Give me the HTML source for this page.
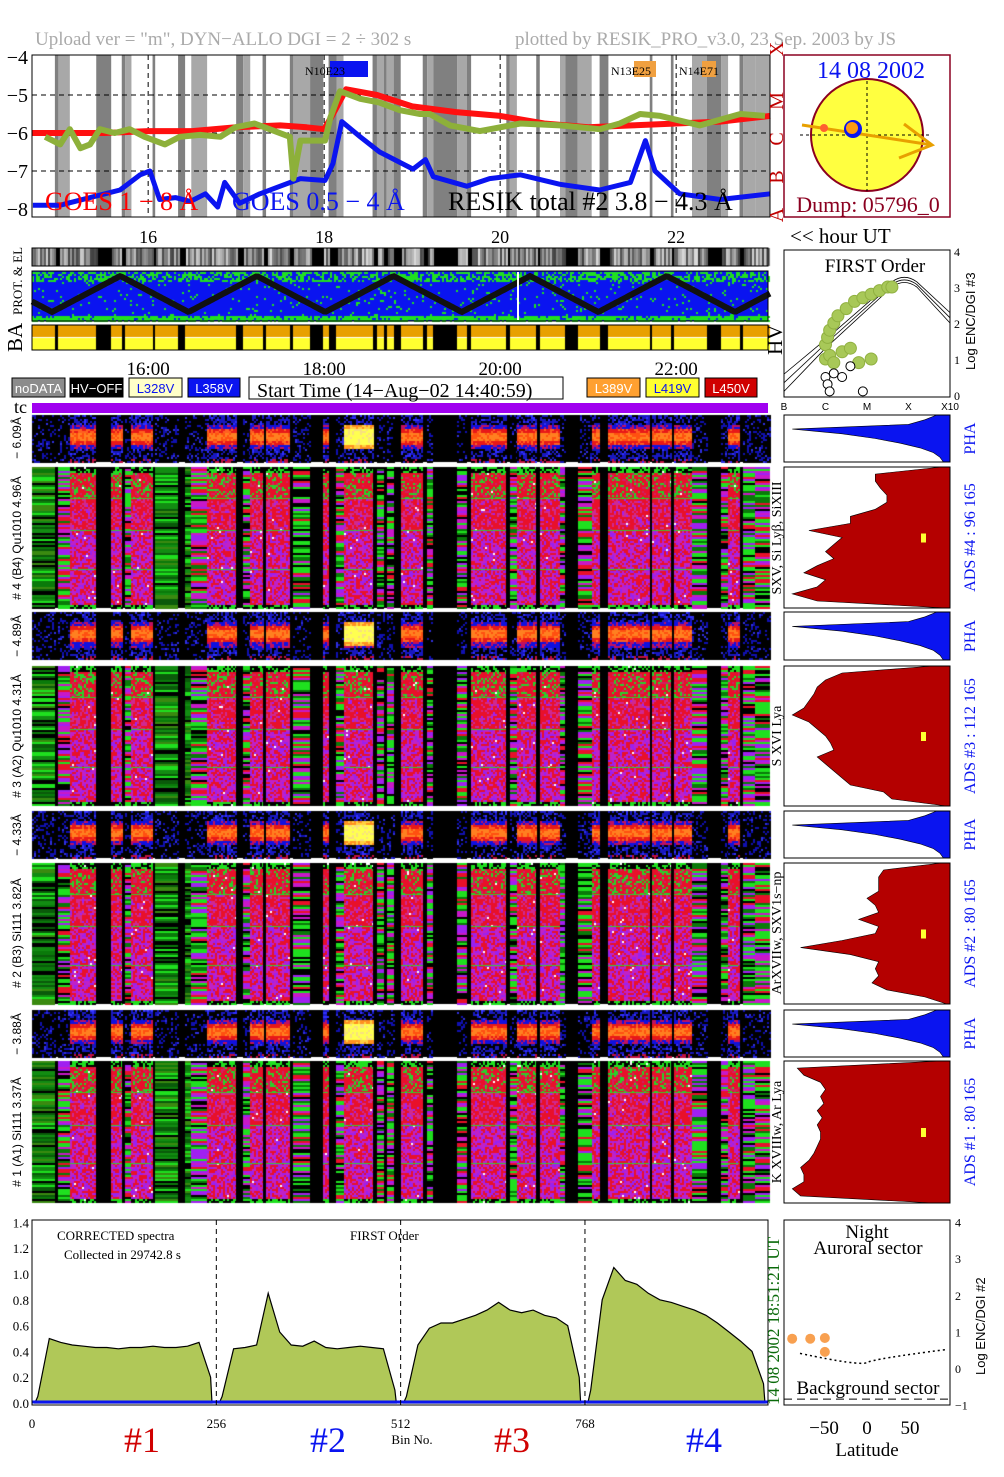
<!DOCTYPE html>
<html><head><meta charset="utf-8">
<style>
html,body{margin:0;padding:0;background:#fff;}
#root{position:relative;width:1004px;height:1477px;overflow:hidden;font-family:"Liberation Serif",serif;}
canvas{position:absolute;}
svg{position:absolute;left:0;top:0;}
</style></head>
<body>
<div id="root">
<canvas id="spec" width="1004" height="1477" style="left:0;top:0"></canvas>
<svg id="svg" width="1004" height="1477" viewBox="0 0 1004 1477"></svg>
</div>
<script>
// ---------- DATA ----------
const goesLongT = [14.68,15.0,15.5,16.0,16.5,17.0,17.5,17.8,18.0,18.1,18.25,18.6,19.0,19.5,20.0,20.5,21.0,21.5,22.0,22.5,23.07];
const goesLongV = [-6.0,-6.0,-6.0,-5.95,-5.95,-5.85,-5.8,-5.85,-5.9,-5.5,-4.85,-5.0,-5.3,-5.45,-5.55,-5.75,-5.85,-5.8,-5.75,-5.7,-5.55];
const goesShortT = [14.69,15.0,15.34,15.68,15.91,16.02,16.13,16.31,16.48,16.65,16.79,16.87,17.04,17.27,17.5,17.73,18.01,18.1,18.2,18.41,18.63,19.01,19.15,19.24,19.62,19.88,20.23,20.68,21.13,21.48,21.65,21.76,22.04,22.5,23.07];
const goesShortV = [-7.9,-7.9,-7.7,-7.5,-7.1,-7.0,-7.75,-7.7,-7.8,-7.6,-7.95,-7.3,-7.85,-7.6,-7.4,-7.2,-7.25,-6.8,-5.7,-6.1,-6.5,-6.95,-6.7,-7.15,-7.4,-7.2,-7.1,-7.35,-7.5,-7.3,-6.2,-7.0,-7.6,-7.75,-7.6];
const resikT = [14.83,15.0,15.11,15.23,15.34,15.45,15.62,15.79,15.96,16.19,16.36,16.59,16.82,16.99,17.21,17.38,17.61,17.65,17.73,18.01,18.07,18.18,18.41,18.63,18.86,19.09,19.2,19.43,19.77,20.23,20.68,21.13,21.36,21.59,21.82,22.27,22.73,23.01];
const resikV = [-6.1,-6.3,-5.9,-6.4,-6.3,-5.9,-6.0,-5.9,-6.1,-6.3,-6.1,-6.05,-6.1,-5.85,-5.75,-5.9,-6.1,-7.2,-6.2,-6.2,-5.6,-4.9,-5.1,-5.2,-5.4,-5.5,-5.5,-5.8,-5.95,-5.75,-5.8,-5.9,-5.75,-5.5,-5.55,-5.8,-5.5,-5.55];
const goesTicks = [-4,-5,-6,-7,-8];
const classLabels = ["X","M","C","B","A"];
const hourTicks = [16,18,20,22];
const segments = [[14.68,14.94,'g'],[14.94,14.98,'k'],[14.98,15.11,'s'],[15.11,15.41,'r'],[15.41,15.58,'k'],[15.58,15.7,'r'],[15.7,15.74,'k'],[15.74,15.81,'s'],[15.81,16.05,'r'],[16.05,16.08,'k'],[16.08,16.34,'g'],[16.34,16.42,'k'],[16.42,16.49,'g'],[16.49,16.67,'s'],[16.67,17.0,'r'],[17.0,17.08,'k'],[17.08,17.16,'s'],[17.16,17.3,'r'],[17.3,17.34,'k'],[17.34,17.61,'r'],[17.61,17.65,'k'],[17.65,17.84,'s'],[17.84,17.99,'k'],[17.99,18.05,'r'],[18.05,18.14,'k'],[18.14,18.22,'s'],[18.22,18.55,'f'],[18.55,18.6,'k'],[18.6,18.68,'s'],[18.68,18.71,'k'],[18.71,18.79,'s'],[18.79,18.87,'k'],[18.87,19.12,'r'],[19.12,19.17,'k'],[19.17,19.24,'s'],[19.24,19.51,'k'],[19.51,19.62,'s'],[19.62,19.67,'k'],[19.67,20.07,'r'],[20.07,20.11,'k'],[20.11,20.19,'s'],[20.19,20.41,'r'],[20.41,20.45,'k'],[20.45,20.68,'r'],[20.68,20.74,'s'],[20.74,20.88,'k'],[20.88,21.04,'s'],[21.04,21.13,'r'],[21.13,21.23,'k'],[21.23,21.7,'r'],[21.7,21.73,'k'],[21.73,21.94,'r'],[21.94,21.97,'k'],[21.97,22.18,'r'],[22.18,22.35,'s'],[22.35,22.51,'k'],[22.51,22.59,'s'],[22.59,22.72,'r'],[22.72,22.76,'k'],[22.76,22.9,'s'],[22.9,23.07,'s']];
const binTicks = [0,256,512,768];
const specTicks = [0.0,0.2,0.4,0.6,0.8,1.0,1.2,1.4];
const spec1 = [0.05,0.50,0.47,0.45,0.44,0.43,0.43,0.42,0.43,0.43,0.44,0.43,0.43,0.44,0.47,0.20];
const spec2 = [0.05,0.42,0.43,0.45,0.85,0.55,0.45,0.44,0.48,0.43,0.42,0.43,0.44,0.43,0.42,0.10];
const spec3 = [0.05,0.45,0.58,0.62,0.62,0.65,0.68,0.72,0.78,0.72,0.70,0.72,0.68,0.66,0.60,0.20];
const spec4 = [0.10,0.80,1.05,0.95,0.92,0.85,0.80,0.78,0.75,0.72,0.68,0.62,0.55,0.48,0.40,0.15];
const ads4 = [0.95,0.55,0.55,0.58,0.62,0.62,0.55,0.40,0.40,0.15,0.35,0.30,0.25,0.30,0.20,0.12,0.25,0.20,0.05,0.20,0.98];
const ads3 = [0.9,0.35,0.25,0.20,0.18,0.15,0.12,0.05,0.15,0.20,0.25,0.28,0.30,0.20,0.25,0.30,0.35,0.40,0.60,0.65,0.98];
const ads2 = [0.95,0.60,0.57,0.57,0.57,0.50,0.55,0.57,0.45,0.57,0.55,0.35,0.10,0.40,0.57,0.55,0.57,0.53,0.62,0.85,0.98];
const ads1 = [0.95,0.08,0.12,0.22,0.25,0.22,0.24,0.20,0.23,0.20,0.22,0.22,0.20,0.18,0.15,0.10,0.12,0.12,0.05,0.10,0.90];
const pha = [0.92,0.85,0.75,0.05,0.35,0.55,0.7,0.82,0.9,0.94,0.96];
const auroraLat = [-87,-66,-49,-49];
const auroraVal = [0.8,0.8,0.82,0.44];
const foX = [1.0,1.05,1.1,1.2,1.3,1.5,1.7,1.9,2.1,2.3,2.5,2.6,1.0,1.1,1.2,1.4,1.6,1.8,1.0,1.05,1.2,1.4,1.6,2.1,1.1,1.9];
const foY = [1.4,1.6,1.8,2.0,2.2,2.4,2.6,2.7,2.8,2.9,3.0,3.0,1.0,1.1,0.9,1.2,1.3,0.9,0.5,0.3,0.6,0.5,0.8,1.0,0.1,0.1];

// ---------- helpers ----------
const NS="http://www.w3.org/2000/svg";
const svg=document.getElementById('svg');
function el(tag,attrs,parent,text){const e=document.createElementNS(NS,tag);for(const k in attrs)e.setAttribute(k,attrs[k]);if(text!==undefined)e.textContent=text;(parent||svg).appendChild(e);return e;}
const X0=32,X1=770;
const xh=h=>32+(h-14.68)*88;
const yg=v=>57+(-4-v)*38;
const SPX=b=>32+b*0.72;
const SPY=v=>1403-v*129;
const serif='"Liberation Serif",serif', sans='"Liberation Sans",sans-serif';

// ---------- canvas textures ----------
const cv=document.getElementById('spec'),ctx=cv.getContext('2d');
let seed=12345;function rnd(){seed=(seed*1664525+1013904223)>>>0;return seed/4294967296;}
function pick(a){return a[Math.floor(rnd()*a.length)];}
function bigPanel(y0,y1){
  for(const [a,b,t] of segments){
    const xa=Math.round(xh(a)),xb=Math.round(xh(b));
    if(t==='k'){ctx.fillStyle='#000';ctx.fillRect(xa,y0,xb-xa,y1-y0);continue;}
    for(let y=y0;y<y1;y+=2){
      const fy=(y-y0)/(y1-y0);
      if(t==='s'||t==='g'){
        const pal=t==='g'?['#0a7a0a','#128c12','#1fe01f','#000','#0a5a0a','#3a8a10']:['#1fe01f','#0a7a0a','#000','#e8102a','#c818c8','#a020f0','#1fe01f'];
        ctx.fillStyle=pick(pal);ctx.fillRect(xa,y,xb-xa,2);
      } else {
        for(let x=xa;x<xb;x+=2){
          let c;const r=rnd();
          if(fy<0.04||fy>0.97)c=r<0.5?'#1fe01f':'#000';
          else if(fy<0.22)c=r<0.25?'#2ad02a':(r<0.85?'#e8102a':'#d02060');
          else if(fy<0.45)c=r<0.6?'#e8102a':(r<0.88?'#d02890':'#a020f0');
          else c=r<0.42?'#e8102a':(r<0.78?'#c020c8':'#9a20f0');
          if(rnd()<0.008)c='#fff';
          ctx.fillStyle=c;ctx.fillRect(x,y,2,2);
        }
      }
    }
  }
  ctx.fillStyle='rgba(40,220,40,0.9)';
  [0.22,0.45,0.72].forEach(f=>{for(const [a,b,t] of segments){if(t==='r'||t==='f'){ctx.fillRect(Math.round(xh(a)),Math.round(y0+f*(y1-y0)),Math.round(xh(b)-xh(a)),1);}}});
}
function smallPanel(y0,y1){
  ctx.fillStyle='#000';ctx.fillRect(X0,y0,736,y1-y0);
  for(const [a,b,t] of segments){
    const xa=Math.round(xh(a)),xb=Math.round(xh(b));
    if(t==='k')continue;
    for(let y=y0;y<y1;y+=2){
      const fy=(y-y0)/(y1-y0);
      for(let x=xa;x<xb;x+=2){
        let c='#000';const r=rnd();
        if(t==='r'||t==='f'){
          const d=Math.abs(fy-0.45);
          if(t==='f'&&d<0.16)c=r<0.7?'#ffff50':'#f8e080';
          else if(t==='f'&&d<0.25)c=r<0.6?'#ff9020':'#ffd040';
          else if(d<0.08)c=r<0.6?'#ff8020':'#ff5010';
          else if(d<0.17)c=r<0.7?'#e81818':'#ff6020';
          else if(d<0.26)c=r<0.6?'#1010e0':'#c01060';
          else c=r<0.4?'#1818c0':(r<0.5?'#3030ff':'#000');
          if(fy>0.9&&r<0.3)c='#c01040';
        } else {
          c=r<0.2?'#1010b0':(r<0.25?'#3030e0':'#000');
        }
        ctx.fillStyle=c;ctx.fillRect(x,y,2,2);
      }
    }
  }
}
const panels=[[415,462,467,608],[612,660,666,806],[811,858,863,1004],[1010,1057,1061,1203]];
panels.forEach(p=>{smallPanel(p[0],p[1]);bigPanel(p[2],p[3]);});

for(let x=X0;x<X1;x+=2){const h=14.68+(x-32)/88;let g=0;for(const [a,b,t] of segments){if(h>=a&&h<b){g=t==='k'?0:Math.floor(60+rnd()*160);}}ctx.fillStyle=`rgb(${g},${g},${g})`;ctx.fillRect(x,248,2,18);}
ctx.fillStyle='#0a14f0';ctx.fillRect(X0,271,736,50);
for(let x=X0;x<X1;x+=2){for(let y=272;y<321;y+=2){const fy=(y-272)/49;const r=rnd();if((fy<0.18&&r<0.55)||(fy>0.88&&r<0.85)||(r<0.06)){ctx.fillStyle='#20e020';ctx.fillRect(x,y,2,2);}}}
for(const [a,b,t] of segments){const xa=Math.round(xh(a)),xb=Math.round(xh(b));if(t==='k'){ctx.fillStyle='#000';ctx.fillRect(xa,325,xb-xa,25);}else{ctx.fillStyle='#e8a000';ctx.fillRect(xa,325,xb-xa,12);ctx.fillStyle='#ffff30';ctx.fillRect(xa,338,xb-xa,12);}}

// ---------- SVG ----------
function txt(x,y,s,size,color,opts){opts=opts||{};const a={x:x,y:y,'font-size':size,fill:color,'font-family':opts.font||serif,'text-anchor':opts.anchor||'start'};if(opts.rot)a.transform=`rotate(${opts.rot} ${x} ${y})`;const t=el('text',a,opts.parent,s);return t;}

txt(35,45,'Upload ver = "m", DYN\u2212ALLO DGI =   2 \u00f7 302 s',19,'#aaaaaa',{name:'upload-title'});
txt(515,45,'plotted by RESIK_PRO_v3.0, 23 Sep. 2003 by JS',19,'#aaaaaa',{name:'plotted-by-title'});

const gp=el('g',{});
el('rect',{x:32,y:55,width:738,height:162,fill:'#fff'},gp);
segments.forEach(s=>{if(s[2]==='k'||s[2]==='s'){const r=el('rect',{x:xh(s[0]),y:55,width:xh(s[1])-xh(s[0]),height:162,fill:s[2]==='k'?'#808080':'#a8a8a8'},gp);}});
goesTicks.forEach((v,i)=>{const y=yg(v);if(i>0&&i<4)el('line',{x1:32,x2:770,y1:y,y2:y,stroke:'#000','stroke-dasharray':'5,4'},gp);txt(28,y+7,'\u2212'+Math.abs(v),20,'#000',{anchor:'end',name:'y-tick-label'});txt(783,y+(i==0?-8:6),classLabels[i],20,'#c00000',{rot:-90,anchor:'middle',name:'flare-class-label'});});
hourTicks.forEach(h=>{el('line',{x1:xh(h),x2:xh(h),y1:55,y2:217,stroke:'#000','stroke-dasharray':'5,4'},gp);txt(xh(h),243,String(h),18,'#000',{anchor:'middle',name:'hour-tick-label'});});
function line(T,V,color,w,name){const d=T.map((t,i)=>(i?'L':'M')+xh(t).toFixed(1)+','+yg(V[i]).toFixed(1)).join('');const p=el('path',{d:d,fill:'none',stroke:color,'stroke-width':w,'stroke-linejoin':'round'},gp);}
line(goesLongT,goesLongV,'#ff1010',6,'goes-long-line');
line(goesShortT,goesShortV,'#0a14f0',5,'goes-short-line');
line(resikT,resikV,'#8db03a',6,'resik-total-line');
el('rect',{x:32,y:55,width:738,height:162,fill:'none',stroke:'#000'},gp);
el('rect',{x:330,y:61,width:38,height:16,fill:'#0a14f0'},gp);txt(305,75,'N10E23',12,'#000',{name:'flare-marker'});
el('rect',{x:634,y:61,width:22,height:16,fill:'#f0a040'},gp);txt(611,75,'N13E25',12,'#000',{name:'flare-marker'});
el('rect',{x:702,y:61,width:14,height:16,fill:'#f0a040'},gp);txt(679,75,'N14E71',12,'#000',{name:'flare-marker'});
txt(45,210,'GOES 1 \u2212 8 \u00c5',26,'#ff0000',{name:'goes-long-legend'});
txt(232,210,'GOES 0.5 \u2212 4 \u00c5',26,'#0a14f0',{name:'goes-short-legend'});
txt(448,210,'RESIK total #2 3.8 \u2212 4.3 \u00c5',26,'#000',{name:'resik-legend'});

el('rect',{x:784,y:55,width:166,height:162,fill:'#fff',stroke:'#8b0020','stroke-width':1.5});
const sun=el('circle',{cx:867,cy:135,r:56,fill:'#ffff40',stroke:'#8b0020','stroke-width':2});
el('line',{x1:800,x2:932,y1:135,y2:135,stroke:'#000','stroke-dasharray':'3,3'});
el('line',{x1:867,x2:867,y1:81,y2:191,stroke:'#000','stroke-dasharray':'3,3'});
el('polyline',{points:'802,125 932,145',stroke:'#e8a000','stroke-width':3,fill:'none'});
el('polyline',{points:'904,124 932,145 899,158',stroke:'#e8a000','stroke-width':3,fill:'none'});
el('circle',{cx:824,cy:128,r:4,fill:'#ff6030'});
el('circle',{cx:853,cy:129,r:9,fill:'#0a14f0'});el('circle',{cx:852,cy:128,r:6,fill:'#ff9a10'});
txt(871,78,'14 08 2002',24,'#0a14f0',{anchor:'middle',name:'sun-date'});
txt(868,212,'Dump: 05796_0',22,'#8b0020',{anchor:'middle',name:'dump-label'});
txt(790,243,'<< hour UT',21,'#000',{name:'hour-ut-label'});

txt(22,315,'PROT. & EL',13,'#000',{rot:-90,name:'prot-el-label'});
txt(22,352,'BA',21,'#000',{rot:-90,name:'ba-label'});
txt(782,355,'HV',21,'#000',{rot:-90,name:'hv-label'});
(function(){const pts=[];const per=136.6,x0=52;for(let x=32;x<=770;x+=2){const ph=(((x-x0)%per)+per)%per/per;const f=ph<0.5?ph*2:2-ph*2;pts.push(x+','+(312-f*36).toFixed(1));}const z=el('polyline',{points:pts.join(' '),fill:'none',stroke:'#111','stroke-width':6});})();
el('line',{x1:518,x2:518,y1:272,y2:320,stroke:'#fff','stroke-width':2});
el('rect',{x:32,y:248,width:736,height:18,fill:'none',stroke:'#000'});
el('rect',{x:32,y:271,width:736,height:50,fill:'none',stroke:'#000'});
el('rect',{x:32,y:325,width:736,height:25,fill:'none',stroke:'#000'});

const fo=el('g',{});
el('rect',{x:784,y:250,width:166,height:147,fill:'#fff',stroke:'#000'},fo);
const fx=c=>784+c*41.5, fy=v=>395-v*36;
[0,0.12,0.24].forEach(o=>{el('path',{d:`M784,${fy(0.1+o*2)} L${fx(1)},${fy(1.3+o)} L${fx(2.6)},${fy(3.0+o*0.6)} Q${fx(2.9)},${fy(3.25+o*0.6)} ${fx(3.2)},${fy(3.0+o*0.6)} L950,${fy(2.0+o*1.2)}`,fill:'none',stroke:'#000','stroke-width':0.8},fo);});
foX.forEach((c,i)=>{const filled=foY[i]>0.85;const d=el('circle',{cx:fx(c),cy:fy(foY[i]),r:filled?6:4.5,fill:filled?'#a8c858':'#fff',stroke:filled?'#90b040':'#000'},fo);});
txt(875,272,'FIRST Order',19,'#000',{anchor:'middle',name:'first-order-title'});
['B','C','M','X','X10'].forEach((s,i)=>txt(784+i*41.5,410,s,10,'#000',{anchor:'middle',font:sans,name:'class-tick'}));
['0','1','2','3','4'].forEach((s,i)=>txt(954,fy(i)+5,s,12,'#000',{name:'log-tick'}));
txt(975,370,'Log ENC/DGI #3',13,'#000',{rot:-90,font:sans,name:'first-order-y-title'});

hourTicks.forEach(h=>txt(xh(h),375,h+':00',19,'#000',{anchor:'middle',name:'time-label'}));
const leg=[[12,53,'#8c8c8c','noDATA','#fff'],[70,53,'#000','HV\u2212OFF','#fff'],[129,53,'#ffffc8','L328V','#0a14f0'],[188,52,'#0a14f0','L358V','#fff'],[587,53,'#ffa030','L389V','#fff'],[646,53,'#ffff30','L419V','#0a14f0'],[705,52,'#d00000','L450V','#fff']];
leg.forEach(l=>{const r=el('rect',{x:l[0],y:378,width:l[1],height:19,fill:l[2],stroke:'#000'});txt(l[0]+l[1]/2,393,l[3],13,l[4],{anchor:'middle',font:sans,name:'legend-text'});});
el('rect',{x:249,y:377,width:314,height:22,fill:'#fff',stroke:'#000'});
txt(257,397,'Start Time (14\u2212Aug\u221202 14:40:59)',20,'#000',{name:'start-time'});
txt(14,413,'tc',18,'#000',{name:'tc-label'});
el('rect',{x:32,y:403,width:736,height:10,fill:'#a000f0'});

const leftLabs=[[438,'\u2212 6.09\u00c5'],[538,'# 4 (B4) Qu1010 4.96\u00c5'],[636,'\u2212 4.89\u00c5'],[736,'# 3 (A2) Qu1010 4.31\u00c5'],[835,'\u2212 4.33\u00c5'],[933,'# 2 (B3) Si111 3.82\u00c5'],[1034,'\u2212 3.88\u00c5'],[1132,'# 1 (A1) Si111 3.37\u00c5']];
leftLabs.forEach(l=>txt(21,l[0],l[1],12,'#000',{rot:-90,anchor:'middle',font:sans,name:'channel-label'}));
const midLabs=[[538,'SXV, Si Ly\u03b2, SiXIII'],[736,'S XVI Lya'],[933,'ArXVIIw, SXV1s\u2212np'],[1132,'K XVIIIw, Ar Lya']];
midLabs.forEach(l=>txt(781,l[0],l[1],14,'#000',{rot:-90,anchor:'middle',name:'line-id-label'}));

function hist(y0,y1,arr,color,name){const n=arr.length-1;let d=`M950,${y0}`;arr.forEach((f,i)=>{const y=y0+(y1-y0)*i/n;d+=` L${(784+f*166).toFixed(1)},${y.toFixed(1)}`;});d+=` L950,${y1} Z`;el('rect',{x:784,y:y0,width:166,height:y1-y0,fill:'#fff',stroke:'#000'});const p=el('path',{d:d,fill:color,stroke:'#000','stroke-width':0.6});el('rect',{x:784,y:y0,width:166,height:y1-y0,fill:'none',stroke:'#000'});}
const adsArrs=[ads4,ads3,ads2,ads1];const adsNames=['ADS #4 :   96 165','ADS #3 :  112 165','ADS #2 :   80 165','ADS #1 :   80 165'];
panels.forEach((p,i)=>{hist(p[0],p[1],pha,'#0a14f0','pha-histogram');hist(p[2],p[3],adsArrs[i],'#b40000','ads-histogram');el('rect',{x:921,y:(p[2]+p[3])/2-4,width:5,height:9,fill:'#ffff30'});txt(975,(p[0]+p[1])/2,'PHA',16,'#0a14f0',{rot:-90,anchor:'middle',name:'pha-label'});txt(975,(p[2]+p[3])/2,adsNames[i],16,'#0a14f0',{rot:-90,anchor:'middle',name:'ads-label'});});

const sp=el('g',{});
el('rect',{x:32,y:1220,width:736,height:185,fill:'#fff'},sp);
[spec1,spec2,spec3,spec4].forEach((arr,c)=>{let d=`M${SPX(c*256+4)},${SPY(0)}`;arr.forEach((v,i)=>{d+=` L${SPX(c*256+8+i*16).toFixed(1)},${SPY(v).toFixed(1)}`;});d+=` L${SPX(c*256+250)},${SPY(0)} Z`;const p=el('path',{d:d,fill:'#b0c858',stroke:'#000','stroke-width':1.2},sp);});
el('line',{x1:32,x2:768,y1:1402,y2:1402,stroke:'#0a14f0','stroke-width':3},sp);
binTicks.forEach((b,i)=>{if(i>0)el('line',{x1:SPX(b),x2:SPX(b),y1:1220,y2:1405,stroke:'#000','stroke-dasharray':'5,4'},sp);txt(SPX(b),1428,String(b),13,'#000',{anchor:'middle',name:'bin-tick'});});
specTicks.forEach(v=>{txt(29,SPY(v)+5,v.toFixed(1),13,'#000',{anchor:'end',name:'spectrum-y-tick'});});
el('rect',{x:32,y:1220,width:736,height:185,fill:'none',stroke:'#000'},sp);
txt(57,1240,'CORRECTED spectra',13,'#000',{name:'corrected-label'});
txt(64,1259,'Collected in 29742.8 s',13,'#000',{name:'collected-label'});
txt(350,1240,'FIRST Order',13,'#000',{name:'first-order-label'});
txt(412,1444,'Bin No.',13,'#000',{anchor:'middle',name:'x-axis-title'});
[['#1',142,'#d00000'],['#2',328,'#0a14f0'],['#3',512,'#d00000'],['#4',704,'#0a14f0']].forEach(c=>txt(c[1],1452,c[0],36,c[2],{anchor:'middle',name:'channel-number'}));
txt(779,1405,'14 08 2002   18:51:21 UT',17,'#0a6a0a',{rot:-90,name:'timestamp-label'});

const ap=el('g',{});
el('rect',{x:784,y:1220,width:166,height:185,fill:'#fff',stroke:'#000'},ap);
const ax=l=>867+l*0.86, ay=v=>1368-v*36.6;
auroraLat.forEach((l,i)=>{const c=el('circle',{cx:ax(l),cy:ay(auroraVal[i]),r:5,fill:'#f8a050'},ap);});
el('path',{d:`M800,${ay(0.4)} Q860,${ay(0.05)} ${ax(0)},${ay(0.15)} T945,${ay(0.5)}`,fill:'none',stroke:'#000','stroke-dasharray':'2,3','stroke-width':1.5},ap);
el('line',{x1:784,x2:950,y1:ay(-0.85),y2:ay(-0.85),stroke:'#000','stroke-dasharray':'8,5'},ap);
txt(867,1238,'Night',19,'#000',{anchor:'middle',name:'night-label'});
txt(868,1254,'Auroral sector',19,'#000',{anchor:'middle',name:'auroral-label'});
txt(868,1394,'Background sector',19,'#000',{anchor:'middle',name:'background-label'});
[-1,0,1,2,3,4].forEach(v=>txt(955,ay(v)+5,v<0?'\u22121':String(v),12,'#000',{name:'aurora-y-tick'}));
txt(985,1375,'Log ENC/DGI #2',13,'#000',{rot:-90,font:sans,name:'aurora-y-title'});
[-50,0,50].forEach(l=>txt(ax(l),1434,l<0?'\u221250':String(l),19,'#000',{anchor:'middle',name:'latitude-tick'}));
txt(867,1456,'Latitude',19,'#000',{anchor:'middle',name:'latitude-title'});
</script>
</body></html>
